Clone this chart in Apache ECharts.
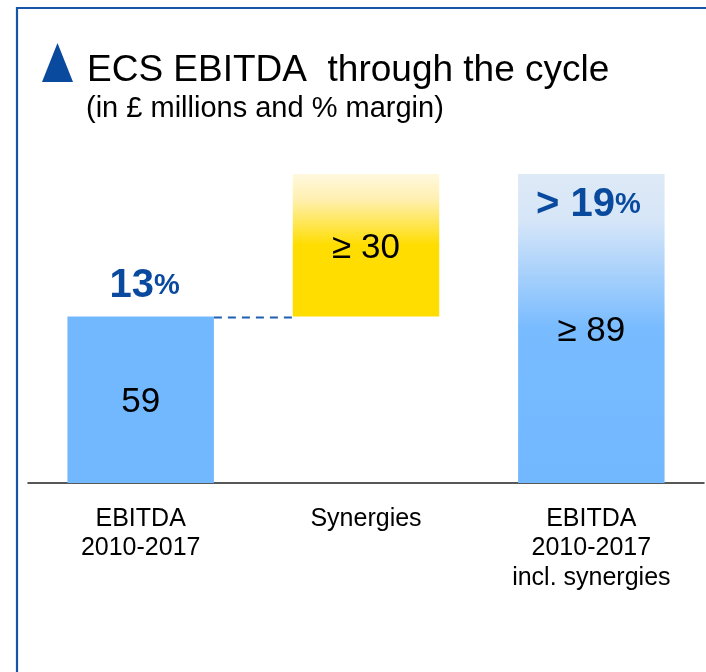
<!DOCTYPE html>
<html>
<head>
<meta charset="utf-8">
<script src="https://cdn.jsdelivr.net/npm/echarts@6/dist/echarts.min.js"></script>
<style>
html,body{margin:0;padding:0;background:#fff;}
#chart{width:706px;height:672px;}
</style>
</head>
<body>
<div id="chart"></div>
<script>
// ---- data ----
var categories = ['EBITDA\n2010-2017', 'Synergies', 'EBITDA\n2010-2017\nincl. synergies'];
var baseValues = [0, 59, 0];          // invisible waterfall base
var barValues = [59, 30, 89];         // visible bar heights (£m)
var barLabels = ['59', '≥ 30', '≥ 89'];
var marginValues = [59, null, 89];    // where the margin labels sit
var marginNumbers = ['13', '', '> 19'];
var connectorValue = 59;              // dashed link level between bar 1 and bar 2

var FONT = 'Liberation Sans, Arial, Helvetica, sans-serif';
var BLUE_DARK = '#0A4A9E';
var BAR_W = 0.65;

var barColors = [
  '#72B8FF',
  {type:'linear', x:0, y:0, x2:0, y2:1, colorStops:[
    {offset:0, color:'#FFF8DE'}, {offset:0.18, color:'#FFF0B0'},
    {offset:0.5, color:'#FFDD00'}, {offset:1, color:'#FFDD00'}]},
  {type:'linear', x:0, y:0, x2:0, y2:1, colorStops:[
    {offset:0, color:'#DEE9F6'}, {offset:0.15, color:'#D6E6F8'},
    {offset:0.5, color:'#78BBFF'}, {offset:1, color:'#72B8FF'}]}
];

var chart = echarts.init(document.getElementById('chart'), null, {renderer:'canvas'});

var option = {
  animation: false,
  backgroundColor: '#fff',
  title: [
    {text: 'ECS EBITDA  through the cycle', left: 82, top: 47,
     textStyle: {fontFamily: FONT, fontSize: 37, fontWeight: 'normal', color: '#000'}},
    {text: '(in £ millions and % margin)', left: 81, top: 89,
     textStyle: {fontFamily: FONT, fontSize: 29, fontWeight: 'normal', color: '#000'}}
  ],
  graphic: [
    {type: 'rect', shape: {x: 17, y: 8, width: 760, height: 760}, silent: true,
     style: {fill: 'none', stroke: '#1556A8', lineWidth: 2.2}},
    {type: 'polygon', shape: {points: [[42, 82], [57.5, 43], [73, 82]]}, silent: true,
     style: {fill: BLUE_DARK}}
  ],
  grid: {left: 28, right: 2, top: 174, bottom: 189, containLabel: false},
  xAxis: {
    type: 'category',
    data: categories,
    axisLine: {show: true, lineStyle: {color: '#222', width: 1.5}},
    axisTick: {show: false},
    axisLabel: {interval: 0, fontFamily: FONT, fontSize: 25, lineHeight: 29.5, color: '#000', margin: 21}
  },
  yAxis: {
    type: 'value', min: 24, max: 89, show: false,
    splitLine: {show: false}
  },
  series: [
    {
      name: 'base', type: 'bar', stack: 'w', barWidth: (BAR_W * 100) + '%',
      silent: true,
      itemStyle: {color: 'transparent'},
      data: baseValues
    },
    {
      name: 'EBITDA', type: 'bar', stack: 'w', barWidth: (BAR_W * 100) + '%',
      data: barValues.map(function (v, i) {
        return {value: v, itemStyle: {color: barColors[i]}};
      }),
      label: {
        show: true, position: 'inside', offset: [0, 3], fontFamily: FONT, fontSize: 35, color: '#000',
        formatter: function (p) { return barLabels[p.dataIndex]; }
      },
      z: 3
    },
    {
      name: 'connector', type: 'custom', silent: true, z: 2,
      data: [[0, connectorValue]],
      renderItem: function (params, api) {
        var p0 = api.coord([0, api.value(1)]);
        var p1 = api.coord([1, api.value(1)]);
        var band = api.size([1, 0])[0];
        var half = band * BAR_W / 2;
        return {
          type: 'line',
          shape: {x1: p0[0] + half, y1: p0[1] + 1, x2: p1[0] - half, y2: p1[1] + 1},
          style: {stroke: '#1F5FAF', lineWidth: 2, lineDash: [8, 6]}
        };
      }
    },
    {
      name: 'margin', type: 'scatter', symbolSize: 1, silent: true, z: 5,
      itemStyle: {opacity: 0},
      data: marginValues.map(function (v, i) {
        if (v === null) return '-';
        var lab = {
          show: true, opacity: 1,
          formatter: '{n|' + marginNumbers[i] + '}{p|%}',
          rich: {
            n: {fontFamily: FONT, fontSize: 40, fontWeight: 'bold', color: BLUE_DARK, opacity: 1},
            p: {fontFamily: FONT, fontSize: 29, fontWeight: 'bold', color: BLUE_DARK, opacity: 1}
          }
        };
        if (i === 0) { lab.position = 'top'; lab.distance = 10; lab.offset = [4, 0]; }
        else { lab.position = 'bottom'; lab.distance = 10; lab.offset = [-3, 0]; }
        return {value: v, label: lab};
      })
    }
  ]
};
chart.setOption(option);
</script>
</body>
</html>
